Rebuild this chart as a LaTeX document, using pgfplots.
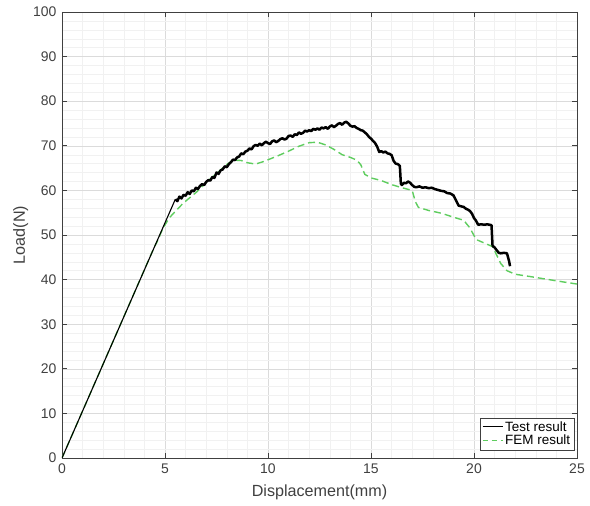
\documentclass[border=0pt]{standalone}
\usepackage{fontspec}
\setmainfont{Liberation Sans}
\usepackage{pgfplots}
\pgfplotsset{compat=1.18}
\definecolor{femgreen}{RGB}{95,205,95}
\definecolor{axgray}{RGB}{64,64,64}
\begin{document}
\begin{tikzpicture}
\begin{axis}[
  scale only axis, width=515bp, height=446bp,
  xmin=0, xmax=25, ymin=0, ymax=100,
  xtick={0,5,...,25}, ytick={0,10,...,100},
  minor xtick={0,1,...,25}, minor ytick={0,2,...,100},
  grid=both,
  major grid style={gray!28, line width=0.5bp},
  minor grid style={gray!11, line width=0.4bp},
  tick align=inside, major tick length=5bp, minor tick length=0pt,
  axis line style={axgray, line width=0.6bp},
  tick style={axgray, line width=0.6bp},
  ticklabel style={font=\fontsize{14}{16}\selectfont, text=axgray},
  xticklabel style={yshift=-2bp},
  yticklabel style={xshift=-2bp},
  /pgf/number format/assume math mode=true,
  xlabel={Displacement(mm)}, ylabel={Load(N)},
  label style={font=\fontsize{16.2}{18}\selectfont, text=axgray},
  xlabel style={at={(axis description cs:0.5,-0.0762)}, anchor=center},
  ylabel style={at={(axis description cs:-0.0800,0.5)}, anchor=center},
  legend style={at={(0.994,0.018)}, anchor=south east, draw=axgray, fill=white,
    font=\fontsize{13.5}{15}\selectfont, inner sep=1.5bp, row sep=-1.5bp,
    /tikz/every even column/.append style={column sep=1bp}},
  legend cell align=left,
  legend image code/.code={\draw[#1] (0bp,0bp) -- (20bp,0bp);},
]
\addlegendimage{black, line width=0.9bp}
\addlegendentry{Test result}
\addlegendimage{femgreen, line width=1.4bp, dash pattern=on 5bp off 4bp}
\addlegendentry{FEM result}

\addplot[femgreen, line width=1.4bp, dash pattern=on 7bp off 4bp, forget plot] coordinates {
(0,0) (4.5,47.5) (4.6,48.3) (4.9,51.5) (5.2,53.8) (5.5,55.3) (5.9,57.2)
(6.5,59.5) (7.0,61.8) (7.5,63.8) (8.0,65.8) (8.3,66.8) (8.7,66.7)
(9.0,66.2) (9.4,65.9) (9.8,66.5) (10.4,67.6) (11.0,68.8) (11.5,69.9)
(12.0,70.7) (12.4,70.8) (12.8,70.2) (13.2,69.2) (13.6,68.0) (14.0,67.4)
(14.3,66.8) (14.5,65.8) (14.7,63.6) (15.0,62.8) (15.5,62.2) (16.0,61.3)
(16.5,60.6) (17.0,60.0) (17.15,57.5) (17.3,56.2) (17.8,55.5) (18.4,54.9)
(19.0,54.0) (19.5,53.3) (19.8,51.6) (20.1,49.0) (20.5,48.2) (20.9,47.4)
(21.1,45.5) (21.3,43.6) (21.6,42.0) (22.0,41.2) (22.7,40.7) (23.5,40.1)
(24.3,39.5) (25.0,39.0)
};

\addplot[black, line width=1.1bp, forget plot] coordinates {
(0,0) (5.5,58.0)
};

\addplot[black, line width=2.5bp, line join=round, forget plot] coordinates {
(5.5,58.0) (5.6,57.6) (5.7,58.6) (5.8,58.2) (5.9,59.0) (6.0,58.8)
(6.1,59.6) (6.2,59.2) (6.3,60.0) (6.4,59.8) (6.5,60.6) (6.6,60.3)
(6.7,61.0) (6.8,61.4) (6.9,61.2) (7.0,61.9) (7.1,62.3) (7.2,62.2)
(7.3,63.0) (7.4,62.8) (7.5,64.0) (7.6,63.7) (7.7,64.5) (7.8,64.7)
(7.9,65.4) (8.0,65.2) (8.1,65.9) (8.2,66.3) (8.3,66.9) (8.4,66.8)
(8.5,67.4) (8.6,67.6) (8.7,68.3) (8.8,68.1) (8.9,68.7) (9.0,68.9)
(9.1,69.4) (9.2,69.2) (9.3,69.9) (9.4,70.2) (9.5,70.0) (9.6,70.5)
(9.7,70.1) (9.8,70.6) (9.9,70.9) (10.0,70.6) (10.1,70.4) (10.2,71.0)
(10.3,71.2) (10.4,70.8) (10.5,71.1) (10.6,71.5) (10.7,71.7) (10.8,71.4)
(10.9,71.6) (11.0,72.2) (11.1,72.3) (11.2,72.0) (11.3,72.6) (11.4,72.4)
(11.5,73.0) (11.6,72.7) (11.7,72.9) (11.8,73.4) (11.9,73.2) (12.0,73.5)
(12.1,73.3) (12.2,73.8) (12.3,73.6) (12.4,73.9) (12.5,73.6) (12.6,74.1)
(12.7,73.9) (12.8,74.2) (12.9,73.8) (13.0,74.3) (13.1,74.6) (13.2,74.2)
(13.3,74.5) (13.4,74.9) (13.5,75.1) (13.6,74.7) (13.7,75.2) (13.8,75.4)
(13.9,75.0) (14.0,74.5) (14.1,74.3) (14.2,74.4) (14.3,74.0) (14.4,73.8)
(14.5,73.5) (14.6,73.4) (14.7,73.0) (14.8,72.6) (14.9,72.0) (15.0,71.6)
(15.1,71.1) (15.2,70.6) (15.3,69.8) (15.4,68.6) (15.5,68.8) (15.6,68.5)
(15.7,68.7) (15.8,68.3) (15.9,68.2) (16.0,67.9) (16.1,66.6) (16.2,66.0)
(16.3,65.9) (16.4,65.5) (16.45,61.5) (16.5,61.2) (16.6,61.7) (16.7,61.6)
(16.8,62.0) (16.9,61.7) (17.0,61.2) (17.1,60.8) (17.2,60.7) (17.35,60.9)
(17.5,60.6) (17.65,60.7) (17.8,60.5) (17.95,60.6) (18.1,60.3) (18.25,60.1)
(18.4,59.9) (18.55,59.8) (18.7,59.4) (18.85,59.3) (19.0,58.9) (19.1,58.0)
(19.25,56.6) (19.4,56.4) (19.5,56.3) (19.6,55.9) (19.7,55.7) (19.8,55.4)
(19.9,54.8) (20.0,53.8) (20.1,53.2) (20.2,52.3) (20.35,52.4) (20.5,52.3)
(20.65,52.4) (20.85,52.2) (20.9,47.6) (21.0,47.2) (21.1,46.6) (21.2,46.0)
(21.3,45.9) (21.45,46.0) (21.6,45.9) (21.7,44.2) (21.75,43.0)
};
\end{axis}
\pgfresetboundingbox
\path[use as bounding box] (current axis.south west) ++(-62bp,-48bp) rectangle ++(590bp,506bp);
\end{tikzpicture}
\end{document}
